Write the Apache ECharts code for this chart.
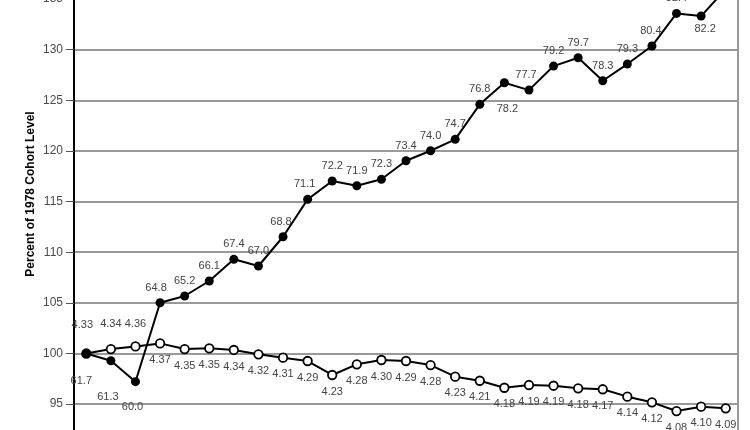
<!DOCTYPE html>
<html>
<head>
<meta charset="utf-8">
<script src="https://cdn.jsdelivr.net/npm/echarts@6/dist/echarts.min.js"></script>
<style>
html,body{margin:0;padding:0;background:#fff;}
#chart{width:750px;height:430px;}
</style>
</head>
<body>
<div id="chart"></div>
<script>
// ---- data ----
const years = ['1978','1979','1980','1981','1982','1983','1984','1985','1986','1987','1988','1989','1990','1991','1992','1993','1994','1995','1996','1997','1998','1999','2000','2001','2002','2003','2004'];
const yTicks = [90, 95, 100, 105, 110, 115, 120, 125, 130, 135, 140];

// filled-dot series: percent of 1978 level and its point labels
const blackPct = [100, 99.29, 97.22, 105.01, 105.68, 107.16, 109.30, 108.64, 111.53, 115.22, 117.03, 116.56, 117.20, 119.03, 120.02, 121.15, 124.60, 126.73, 126.01, 128.38, 129.20, 126.93, 128.58, 130.36, 133.58, 133.32, 135.98];
const blackLabels = ['61.7','61.3','60.0','64.8','65.2','66.1','67.4','67.0','68.8','71.1','72.2','71.9','72.3','73.4','74.0','74.7','76.8','78.2','77.7','79.2','79.7','78.3','79.3','80.4','82.4','82.2','84.0'];

// open-circle series
const whitePct = [100, 100.44, 100.70, 101.0, 100.44, 100.51, 100.35, 99.92, 99.59, 99.26, 97.88, 98.93, 99.36, 99.26, 98.86, 97.71, 97.31, 96.62, 96.89, 96.82, 96.56, 96.47, 95.74, 95.18, 94.32, 94.75, 94.59];
const whiteLabels = ['4.33','4.34','4.36','4.37','4.35','4.35','4.34','4.32','4.31','4.29','4.23','4.28','4.30','4.29','4.28','4.23','4.21','4.18','4.19','4.19','4.18','4.17','4.14','4.12','4.08','4.10','4.09'];

// ---- label placement (style only) ----
const blackLabelPlace = {
  0: {position:'bottom', offset:[-5, 12.5]},
  1: {position:'bottom', offset:[-3, 21.5]},
  2: {position:'bottom', offset:[-3, 10]},
  3: {offset:[-4, 0]},
  8: {offset:[-2, 0]},
  9: {offset:[-3, 0]},
  17: {position:'bottom', offset:[3, 11.5]},
  18: {offset:[-3, 0]},
  23: {offset:[-1, 0]},
  25: {position:'bottom', offset:[4, -2.5]}
};
const whiteLabelPlace = {
  0: {position:'top', offset:[-4, -11.5]},
  1: {position:'top', offset:[0, -8.5]},
  2: {position:'top', offset:[0, -6]}
};

const labelFont = {fontFamily:'Liberation Sans, Arial, sans-serif', fontSize:11, color:'#444'};

function buildData(vals, labels, place, defPos, dist) {
  return vals.map((v, i) => {
    const p = place[i] || {};
    return {
      value: v,
      label: Object.assign({
        show: true,
        position: p.position || defPos,
        offset: p.offset || [0, 0],
        distance: dist,
        formatter: () => labels[i]
      }, labelFont)
    };
  });
}

const chart = echarts.init(document.getElementById('chart'), null, {renderer:'canvas'});
chart.setOption({
  animation: false,
  backgroundColor: '#fff',
  grid: {
    left: 74, right: 12, top: -51.6, height: 506.4,
    outerBoundsMode: 'none',
    containLabel: false,
    show: true, borderColor: '#999', borderWidth: 2, backgroundColor: 'transparent'
  },
  xAxis: {
    type: 'category',
    data: years,
    boundaryGap: true,
    axisLine: {lineStyle: {color: '#000', width: 2}},
    axisTick: {show: false},
    axisLabel: {show: false},
    splitLine: {show: false}
  },
  yAxis: {
    type: 'value',
    min: yTicks[0],
    max: yTicks[yTicks.length - 1],
    interval: 5,
    axisLine: {show: true, lineStyle: {color: '#000', width: 2}},
    axisTick: {show: true, length: 8, lineStyle: {color: '#555', width: 1}},
    axisLabel: {
      margin: 11, fontSize: 12, color: '#4a4a4a',
      fontFamily: 'Liberation Sans, Arial, sans-serif'
    },
    splitLine: {show: true, lineStyle: {color: '#999', width: 2}}
  },
  graphic: [{
    type: 'text',
    x: 30.5, y: 194,
    rotation: Math.PI / 2,
    style: {
      text: 'Percent of 1978 Cohort Level',
      font: 'bold 12px "Liberation Sans", Arial, sans-serif',
      fill: '#000',
      align: 'center',
      verticalAlign: 'middle'
    }
  }],
  series: [
    {
      name: 'open',
      type: 'line',
      data: buildData(whitePct, whiteLabels, whiteLabelPlace, 'bottom', 6),
      symbol: 'circle',
      symbolSize: 8.5,
      showAllSymbol: true,
      lineStyle: {color: '#000', width: 2},
      itemStyle: {color: '#fff', borderColor: '#000', borderWidth: 1.8},
      z: 2
    },
    {
      name: 'filled',
      type: 'line',
      data: buildData(blackPct, blackLabels, blackLabelPlace, 'top', 5),
      symbol: 'circle',
      symbolSize: 9,
      showAllSymbol: true,
      lineStyle: {color: '#000', width: 2},
      itemStyle: {color: '#000', borderColor: '#000', borderWidth: 0},
      z: 3
    }
  ]
});
</script>
</body>
</html>
